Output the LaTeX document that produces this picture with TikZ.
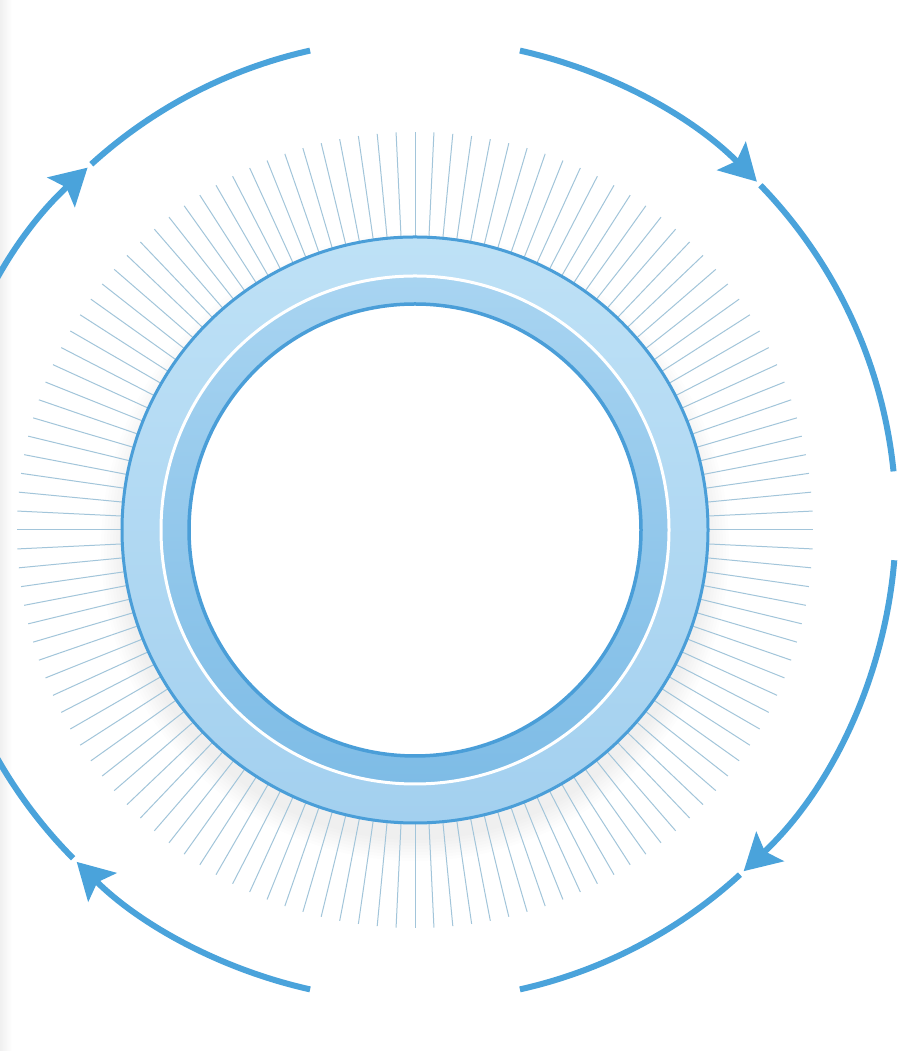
\documentclass[tikz,border=0pt]{standalone}
\usetikzlibrary{arrows.meta}
\definecolor{arcblue}{HTML}{4AA3DB}
\definecolor{rayc}{HTML}{A2C5DA}
\definecolor{ringedge}{HTML}{4A9ED8}
\definecolor{outtop}{HTML}{BEE1F6}
\definecolor{outbot}{HTML}{A3D0EF}
\definecolor{intop}{HTML}{A8D4F1}
\definecolor{inbot}{HTML}{7EBCE6}
\begin{document}
\begin{tikzpicture}[x=1pt,y=1pt,
  arcline/.style={arcblue, line width=6pt},
  headarrow/.style={-{Stealth[length=36pt,width=40pt,inset=7pt]}},
  ray/.style={rayc, line width=1pt},
  ringborder/.style={ringedge, line width=3pt},
  shadowdisc/.style={black, opacity=0.008}
]
\useasboundingbox (0,0) rectangle (902,1051);
\fill[white] (0,0) rectangle (902,1051);
\shade[left color=black!6, right color=white] (0,0) rectangle (12,1051);
\coordinate (C) at (415,521);
\coordinate (O) at (415,531);
\coordinate (S) at (415,504);
% soft shadow under the ring
\foreach \k in {1,...,8}{
  \fill[shadowdisc] (S) circle ({290+\k*3});
}
% rays
\foreach \i in {0,...,131}{
  \pgfmathsetmacro{\ang}{\i*2.727273}
  \draw[ray] ([shift={(\ang:285)}]C) -- ([shift={(\ang:398)}]C);
}
% ring
\shade[even odd rule, top color=outtop, bottom color=outbot] (C) circle (293) (C) circle (254);
\shade[even odd rule, top color=intop, bottom color=inbot] (C) circle (254) (C) circle (226);
\fill[white] (C) circle (226);
\draw[white, line width=3pt] (C) circle (254);
\draw[ringborder] (C) circle (293);
\draw[ringborder, line width=3.5pt] (C) circle (226);
% outer arcs (clockwise)
\draw[arcline, headarrow] ([shift={(77.4:481)}]O) arc[start angle=77.4, end angle=44.7, radius=481];
\draw[arcline] ([shift={(44.1:481)}]O) arc[start angle=44.1, end angle=5.8, radius=481];
\draw[arcline, headarrow] ([shift={(-4.8:481)}]O) arc[start angle=-4.8, end angle=-46.9, radius=481];
\draw[arcline] ([shift={(-47.5:481)}]O) arc[start angle=-47.5, end angle=-77.4, radius=481];
\draw[arcline, headarrow] ([shift={(-102.6:481)}]O) arc[start angle=-102.6, end angle=-134.7, radius=481];
\draw[arcline] ([shift={(-135.3:481)}]O) arc[start angle=-135.3, end angle=-176, radius=481];
\draw[arcline, headarrow] ([shift={(176:481)}]O) arc[start angle=176, end angle=132.9, radius=481];
\draw[arcline] ([shift={(132.3:481)}]O) arc[start angle=132.3, end angle=102.6, radius=481];
\end{tikzpicture}
\end{document}
